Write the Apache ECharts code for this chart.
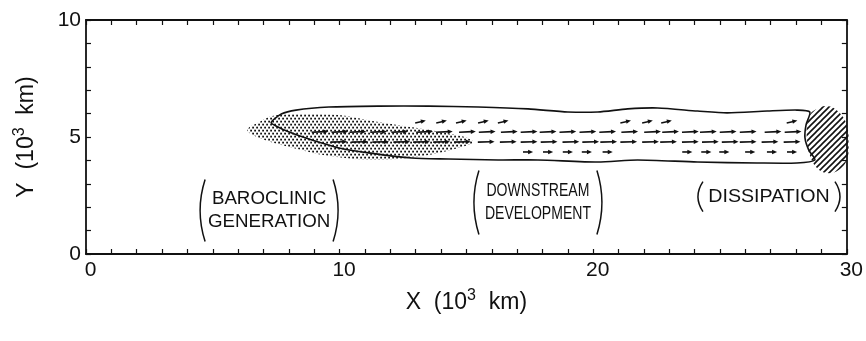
<!DOCTYPE html>
<html>
<head>
<meta charset="utf-8">
<script src="https://cdn.jsdelivr.net/npm/echarts@6/dist/echarts.min.js"></script>
<style>
  html, body { margin: 0; padding: 0; background: #fff; }
  #chart { width: 866px; height: 341px; }
</style>
</head>
<body>
<div id="chart"></div>
<script>
// ---- Data (units: 10^3 km) ----
const xTickLabels = [0, 10, 20, 30];
const yTickLabels = [0, 5, 10];

// Flux vectors: one row of arrow centres per latitude line
const rowY = [5.65, 5.22, 4.79, 4.36];
const rowU = [0.42, 0.66, 0.66, 0.40];
const rowV = [0.10, 0.03, 0.02, 0.00];
const row1X = [13.19, 14.02, 14.80, 15.67, 16.45, 21.28, 22.14, 22.89, 27.84];
const row2X = [9.23, 10.01, 10.72, 11.54, 12.37, 13.35, 14.13, 15.04, 15.82, 16.69, 17.47, 18.22,
               19.00, 19.79, 20.57, 21.44, 22.34, 23.05, 23.83, 24.54, 25.32, 26.11, 27.09, 27.88];
const row3X = [9.97, 10.80, 11.62, 12.45, 13.23, 14.02, 14.84, 15.78, 16.65, 17.47, 18.26, 19.12,
               19.90, 20.61, 21.40, 22.26, 22.97, 23.83, 24.62, 25.40, 26.11, 26.97, 27.84];
const row4X = [17.43, 18.22, 19.00, 19.75, 20.57, 23.71, 24.46, 25.17, 26.19, 27.05, 27.84];

// Packet envelope contour
const envX = [7.30, 7.70, 8.28, 9.58, 11.54, 13.51, 15.47, 17.43, 19.00, 20.18, 21.36, 22.54, 24.11,
              25.28, 26.86, 28.03, 28.54, 28.39, 28.35, 28.50, 28.74, 28.03, 26.46, 24.11, 21.75,
              20.18, 17.82, 16.25, 14.29, 12.84, 11.15, 9.97, 8.79, 8.01, 7.53];
const envY = [5.62, 5.98, 6.15, 6.28, 6.32, 6.32, 6.28, 6.20, 6.07, 6.07, 6.20, 6.24, 6.11,
              6.03, 6.11, 6.15, 6.07, 5.51, 4.96, 4.44, 4.02, 3.89, 3.89, 3.93, 4.02,
              3.93, 4.02, 4.02, 4.06, 4.10, 4.32, 4.53, 4.91, 5.21, 5.45];

// Baroclinic generation region (stippled)
const genX = [6.36, 6.83, 7.34, 8.40, 9.97, 11.54, 13.51, 14.80, 15.27, 14.80, 13.51, 11.54, 9.58, 8.01, 6.83];
const genY = [5.30, 5.64, 5.90, 5.98, 5.94, 5.64, 5.30, 5.04, 4.79, 4.57, 4.23, 4.02, 4.19, 4.57, 4.96];

// Dissipation region (hatched)
const dissX = [28.74, 29.21, 29.68, 30.00, 30.07, 30.00, 29.68, 29.21, 28.82, 28.54, 28.43, 28.43, 28.54];
const dissY = [6.15, 6.32, 6.07, 5.51, 4.66, 4.02, 3.59, 3.46, 3.68, 4.23, 4.87, 5.51, 5.94];

const noteTexts = ['BAROCLINIC\nGENERATION', 'DOWNSTREAM\nDEVELOPMENT', 'DISSIPATION'];

// ---- Build series data ----
const vectors = [];
[row1X, row2X, row3X, row4X].forEach((xs, r) => {
  xs.forEach(x => vectors.push([x, rowY[r], rowU[r], rowV[r]]));
});
const envelope = envX.map((x, i) => [x, envY[i]]);
const genRegion = genX.map((x, i) => [x, genY[i]]);
const dissRegion = dissX.map((x, i) => [x, dissY[i]]);

// Annotation anchors (data units), bracket half-sizes (px) and horizontal text squeeze
const notes = [
  { text: noteTexts[0], x: 7.22, y: 1.86, hw: 69, hh: 31, sx: 1.04 },
  { text: noteTexts[1], x: 17.82, y: 2.20, hw: 64, hh: 32, sx: 0.78 },
  { text: noteTexts[2], x: 26.93, y: 2.45, hw: 71, hh: 15, sx: 1.09 }
];

// ---- Fill patterns ----
function makeTile(w, h, draw) {
  const c = document.createElement('canvas');
  c.width = w; c.height = h;
  draw(c.getContext('2d'));
  return c;
}
const dotTile = makeTile(4, 6, g => {
  g.fillStyle = '#111';
  g.fillRect(0.2, 0.7, 1.8, 1.8);
  g.fillRect(2.2, 3.7, 1.8, 1.8);
});
const hatchTile = makeTile(6, 6, g => {
  g.strokeStyle = '#111';
  g.lineWidth = 1.6;
  g.beginPath();
  g.moveTo(-1, 7); g.lineTo(7, -1);
  g.moveTo(-1, 1); g.lineTo(1, -1);
  g.moveTo(5, 7); g.lineTo(7, 5);
  g.stroke();
});

const INK = '#111';
const FONT = '"Liberation Sans", Arial, sans-serif';

function regionRenderer(points, style, smooth) {
  return function (params, api) {
    if (params.dataIndex !== 0) return null;
    const pts = points.map(p => api.coord(p));
    return { type: 'polygon', shape: { points: pts, smooth: smooth }, style: style, silent: true };
  };
}

const axisCommon = {
  type: 'value',
  interval: 1,
  axisLine: { show: true, onZero: false, lineStyle: { color: INK, width: 1.8 } },
  axisTick: { show: true, inside: true, length: 5, lineStyle: { color: INK, width: 1.2 } },
  splitLine: { show: false }
};

const titleStyle = {
  color: INK, fontSize: 23, fontFamily: FONT,
  rich: { s: { fontSize: 16, fontFamily: FONT, color: INK, padding: [0, 0, 14, 0] } }
};

const chart = echarts.init(document.getElementById('chart'), null, { renderer: 'canvas' });
chart.setOption({
  backgroundColor: '#fff',
  animation: false,
  grid: { left: 86, right: 15, top: 20, bottom: 87, containLabel: false },
  xAxis: [
    Object.assign({}, axisCommon, {
      min: 0, max: 30, position: 'bottom',
      axisLabel: {
        color: INK, fontSize: 21, fontFamily: FONT, margin: 6, padding: [0, 0, 0, 9],
        formatter: v => (xTickLabels.indexOf(v) >= 0 ? String(v) : '')
      },
      name: 'X  (10{s|3}  km)',
      nameLocation: 'middle',
      nameGap: 34,
      nameTextStyle: titleStyle
    }),
    Object.assign({}, axisCommon, {
      min: 0, max: 30, position: 'top',
      axisLabel: { show: false }
    })
  ],
  yAxis: [
    Object.assign({}, axisCommon, {
      min: 0, max: 10, position: 'left',
      axisLabel: {
        color: INK, fontSize: 21, fontFamily: FONT, margin: 5,
        formatter: v => (yTickLabels.indexOf(v) >= 0 ? String(v) : '')
      },
      name: 'Y  (10{s|3}  km)',
      nameLocation: 'middle',
      nameGap: 44,
      nameRotate: 90,
      nameTextStyle: titleStyle
    }),
    Object.assign({}, axisCommon, {
      min: 0, max: 10, position: 'right',
      axisLabel: { show: false }
    })
  ],
  series: [
    {
      type: 'custom', name: 'generation', coordinateSystem: 'cartesian2d',
      data: genRegion, z: 1,
      renderItem: regionRenderer(genRegion, { fill: { image: dotTile, repeat: 'repeat' }, stroke: null }, 0.35)
    },
    {
      type: 'custom', name: 'envelope', coordinateSystem: 'cartesian2d',
      data: envelope, z: 2,
      renderItem: regionRenderer(envelope, { fill: null, stroke: INK, lineWidth: 1.6 }, 0.25)
    },
    {
      type: 'custom', name: 'flux', coordinateSystem: 'cartesian2d',
      data: vectors, z: 3,
      renderItem: function (params, api) {
        const x = api.value(0), y = api.value(1), u = api.value(2), v = api.value(3);
        const p0 = api.coord([x - u / 2, y - v / 2]);
        const p1 = api.coord([x + u / 2, y + v / 2]);
        const dx = p1[0] - p0[0], dy = p1[1] - p0[1];
        const L = Math.hypot(dx, dy) || 1;
        const ux = dx / L, uy = dy / L;
        const hl = 5, hw = 2.2;
        const bx = p1[0] - ux * hl, by = p1[1] - uy * hl;
        return {
          type: 'group', silent: true,
          children: [
            { type: 'line', shape: { x1: p0[0], y1: p0[1], x2: bx + ux, y2: by + uy }, style: { stroke: INK, lineWidth: 1.6 } },
            { type: 'polygon', shape: { points: [[p1[0], p1[1]], [bx - uy * hw, by + ux * hw], [bx + uy * hw, by - ux * hw]] },
              style: { fill: INK } }
          ]
        };
      }
    },
    {
      type: 'custom', name: 'dissipation', coordinateSystem: 'cartesian2d',
      data: dissRegion, z: 4,
      renderItem: regionRenderer(dissRegion, { fill: { image: hatchTile, repeat: 'repeat' }, stroke: null }, 0.4)
    },
    {
      type: 'custom', name: 'notes', coordinateSystem: 'cartesian2d',
      data: notes.map(n => [n.x, n.y]), z: 5,
      renderItem: function (params, api) {
        const n = notes[params.dataIndex];
        const c = api.coord([n.x, n.y]);
        const bulge = 5;
        const lx = c[0] - n.hw, rx = c[0] + n.hw;
        return {
          type: 'group', silent: true,
          children: [
            { type: 'text', x: c[0], y: c[1], scaleX: n.sx,
              style: { text: n.text, fill: INK, fontSize: 18, fontFamily: FONT, align: 'center', verticalAlign: 'middle', lineHeight: 23 } },
            { type: 'bezierCurve', shape: { x1: lx + bulge, y1: c[1] - n.hh, x2: lx + bulge, y2: c[1] + n.hh, cpx1: lx - bulge, cpy1: c[1] },
              style: { stroke: INK, lineWidth: 1.5, fill: null } },
            { type: 'bezierCurve', shape: { x1: rx - bulge, y1: c[1] - n.hh, x2: rx - bulge, y2: c[1] + n.hh, cpx1: rx + bulge, cpy1: c[1] },
              style: { stroke: INK, lineWidth: 1.5, fill: null } }
          ]
        };
      }
    }
  ]
});
</script>
</body>
</html>
